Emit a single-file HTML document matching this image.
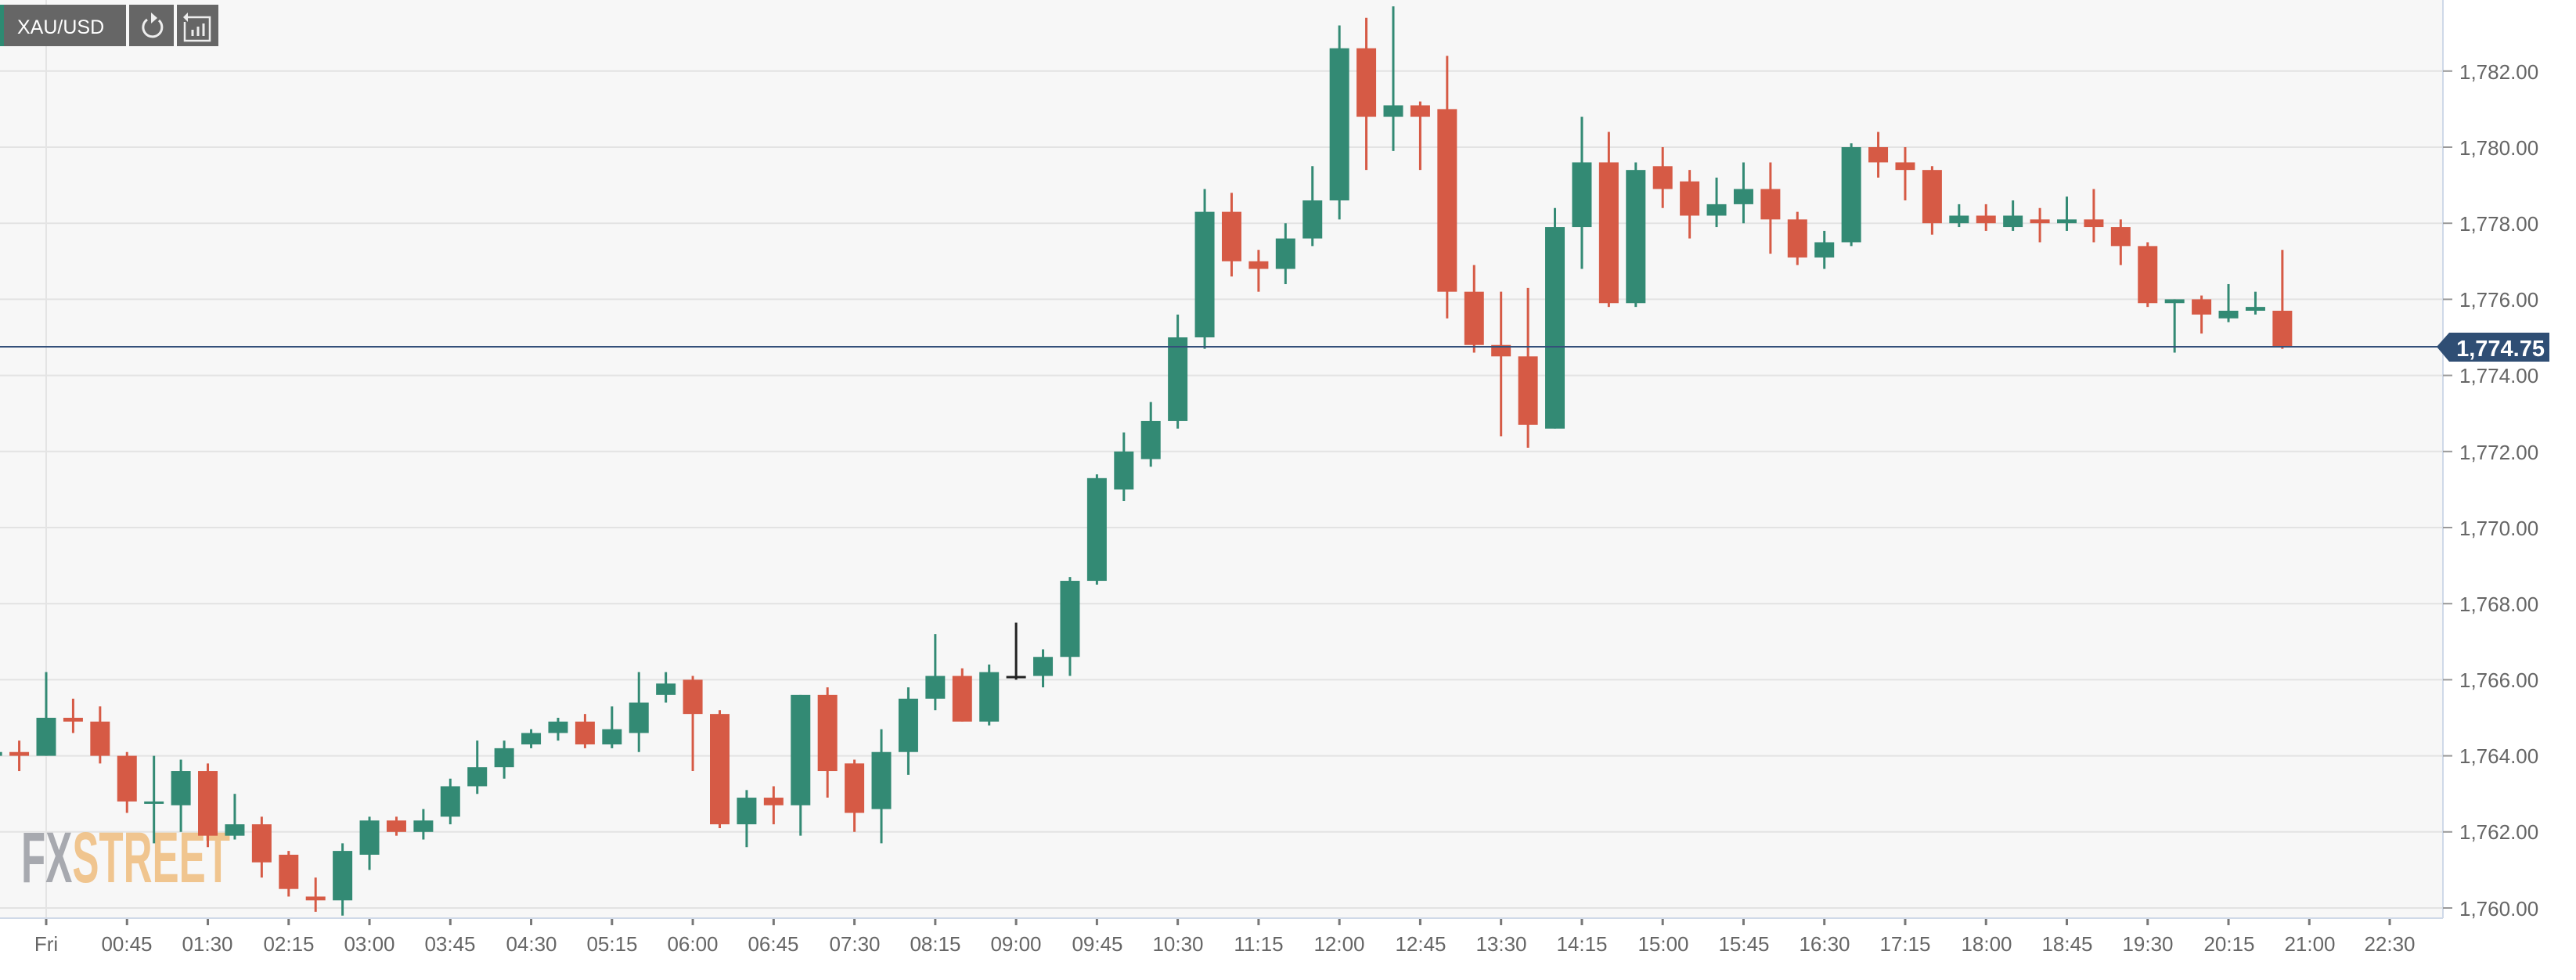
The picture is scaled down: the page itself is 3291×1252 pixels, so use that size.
<!DOCTYPE html>
<html><head><meta charset="utf-8"><style>
body{margin:0;width:3291px;height:1252px;background:#fff;overflow:hidden;font-family:"Liberation Sans",sans-serif;}
svg{position:absolute;left:0;top:0}
</style></head><body>
<svg id="s" width="3291" height="1252" xmlns="http://www.w3.org/2000/svg">
<rect x="0" y="0" width="3121" height="1173" fill="#f7f7f7"/>
<g id="grid"></g>
<line x1="59" y1="0" x2="59" y2="1173" stroke="#e4e4e4" stroke-width="2"/>
<line x1="3121" y1="0" x2="3121" y2="1173" stroke="#cfd9e8" stroke-width="2"/>
<line x1="0" y1="1173" x2="3121" y2="1173" stroke="#cfd9e8" stroke-width="2"/>
<g font-family="Liberation Sans Narrow, Liberation Sans, sans-serif" font-weight="bold" font-size="92" opacity="0.85">
<text x="27" y="1127" textLength="267" lengthAdjust="spacingAndGlyphs"><tspan fill="#9a9ca3">FX</tspan><tspan fill="#efbd7d">STREET</tspan></text>
</g>
<g id="candles"></g>
<line x1="0" y1="443" x2="3121" y2="443" stroke="#34507a" stroke-width="2"/>
<polygon points="3113,443 3129,425 3257,425 3257,462 3129,462" fill="#2f4e74"/>
<text x="3251" y="455" text-anchor="end" font-size="29" font-weight="bold" fill="#fff">1,774.75</text>
<g font-size="26" fill="#666">
<text x="3142" y="101">1,782.00</text>
<text x="3142" y="198">1,780.00</text>
<text x="3142" y="295">1,778.00</text>
<text x="3142" y="392">1,776.00</text>
<text x="3142" y="489">1,774.00</text>
<text x="3142" y="587">1,772.00</text>
<text x="3142" y="684">1,770.00</text>
<text x="3142" y="781">1,768.00</text>
<text x="3142" y="878">1,766.00</text>
<text x="3142" y="975">1,764.00</text>
<text x="3142" y="1072">1,762.00</text>
<text x="3142" y="1170">1,760.00</text>
</g>
<g id="yt"></g>
<g id="xt"></g>
<g font-size="26" fill="#666" text-anchor="middle">
<text x="59" y="1215">Fri</text>
<text x="162" y="1215">00:45</text>
<text x="265" y="1215">01:30</text>
<text x="369" y="1215">02:15</text>
<text x="472" y="1215">03:00</text>
<text x="575" y="1215">03:45</text>
<text x="679" y="1215">04:30</text>
<text x="782" y="1215">05:15</text>
<text x="885" y="1215">06:00</text>
<text x="988" y="1215">06:45</text>
<text x="1092" y="1215">07:30</text>
<text x="1195" y="1215">08:15</text>
<text x="1298" y="1215">09:00</text>
<text x="1402" y="1215">09:45</text>
<text x="1505" y="1215">10:30</text>
<text x="1608" y="1215">11:15</text>
<text x="1711" y="1215">12:00</text>
<text x="1815" y="1215">12:45</text>
<text x="1918" y="1215">13:30</text>
<text x="2021" y="1215">14:15</text>
<text x="2125" y="1215">15:00</text>
<text x="2228" y="1215">15:45</text>
<text x="2331" y="1215">16:30</text>
<text x="2434" y="1215">17:15</text>
<text x="2538" y="1215">18:00</text>
<text x="2641" y="1215">18:45</text>
<text x="2744" y="1215">19:30</text>
<text x="2848" y="1215">20:15</text>
<text x="2951" y="1215">21:00</text>
<text x="3053" y="1215">22:30</text>
</g>
<rect x="0" y="6" width="161" height="53" fill="#666"/>
<rect x="0" y="6" width="5" height="53" fill="#2e8a72"/>
<text x="22" y="43" font-size="25" fill="#fff">XAU/USD</text>
<rect x="165" y="6" width="57" height="53" fill="#666"/>
<path d="M203,26 A12,12 0 1 1 188,25" fill="none" stroke="#eee" stroke-width="3"/>
<polygon points="193,16 193,30 201,23" fill="#eee"/>
<rect x="226" y="6" width="53" height="53" fill="#666"/>
<path d="M236,22 H268 V52 H236 V28" fill="none" stroke="#eee" stroke-width="2.5"/>
<polygon points="234,22 240,16 240,28" fill="#eee"/>
<line x1="246" y1="46" x2="246" y2="38" stroke="#eee" stroke-width="3"/>
<line x1="253" y1="46" x2="253" y2="34" stroke="#eee" stroke-width="3"/>
<line x1="260" y1="46" x2="260" y2="30" stroke="#eee" stroke-width="3"/>
</svg>
<script>
var NS="http://www.w3.org/2000/svg";
function Y(p){return 1160-(p-1760)*48.6;}
function el(par,t,a){var e=document.createElementNS(NS,t);for(var k in a)e.setAttribute(k,a[k]);document.getElementById(par).appendChild(e);}
for(var p=1760;p<=1782;p+=2){el("grid","line",{x1:0,x2:3121,y1:Y(p),y2:Y(p),stroke:"#e3e3e3","stroke-width":2});el("yt","line",{x1:3121,x2:3133,y1:Y(p),y2:Y(p),stroke:"#999","stroke-width":2});}
for(var k=0;k<=84;k+=3){var x=59+k*34.42;el("xt","line",{x1:x,x2:x,y1:1174,y2:1182,stroke:"#777","stroke-width":3});}
el("xt","line",{x1:3053,x2:3053,y1:1174,y2:1182,stroke:"#777","stroke-width":3});
var d=[
[-2,1764.0,1764.1,1764.3,1763.9],
[-1,1764.1,1764.0,1764.4,1763.6],
[0,1764.0,1765.0,1766.2,1764.0],[1,1765.0,1764.9,1765.5,1764.6],[2,1764.9,1764.0,1765.3,1763.8],[3,1764.0,1762.8,1764.1,1762.5],
[4,1762.8,1762.8,1764.0,1761.7],[5,1762.7,1763.6,1763.9,1762.0],[6,1763.6,1761.9,1763.8,1761.6],[7,1761.9,1762.2,1763.0,1761.8],
[8,1762.2,1761.2,1762.4,1760.8],[9,1761.4,1760.5,1761.5,1760.3],[10,1760.3,1760.2,1760.8,1759.9],[11,1760.2,1761.5,1761.7,1759.8],
[12,1761.4,1762.3,1762.4,1761.0],[13,1762.3,1762.0,1762.4,1761.9],[14,1762.0,1762.3,1762.6,1761.8],[15,1762.4,1763.2,1763.4,1762.2],
[16,1763.2,1763.7,1764.4,1763.0],[17,1763.7,1764.2,1764.4,1763.4],[18,1764.3,1764.6,1764.7,1764.2],[19,1764.6,1764.9,1765.0,1764.4],
[20,1764.9,1764.3,1765.1,1764.2],[21,1764.3,1764.7,1765.3,1764.2],[22,1764.6,1765.4,1766.2,1764.1],[23,1765.6,1765.9,1766.2,1765.4],
[24,1766.0,1765.1,1766.1,1763.6],[25,1765.1,1762.2,1765.2,1762.1],[26,1762.2,1762.9,1763.1,1761.6],[27,1762.9,1762.7,1763.2,1762.2],
[28,1762.7,1765.6,1765.6,1761.9],[29,1765.6,1763.6,1765.8,1762.9],[30,1763.8,1762.5,1763.9,1762.0],[31,1762.6,1764.1,1764.7,1761.7],
[32,1764.1,1765.5,1765.8,1763.5],[33,1765.5,1766.1,1767.2,1765.2],[34,1766.1,1764.9,1766.3,1764.9],[35,1764.9,1766.2,1766.4,1764.8],
[36,1766.1,1766.1,1767.5,1766.0],[37,1766.1,1766.6,1766.8,1765.8],[38,1766.6,1768.6,1768.7,1766.1],[39,1768.6,1771.3,1771.4,1768.5],
[40,1771.0,1772.0,1772.5,1770.7],[41,1771.8,1772.8,1773.3,1771.6],[42,1772.8,1775.0,1775.6,1772.6],[43,1775.0,1778.3,1778.9,1774.7],
[44,1778.3,1777.0,1778.8,1776.6],[45,1777.0,1776.8,1777.3,1776.2],[46,1776.8,1777.6,1778.0,1776.4],[47,1777.6,1778.6,1779.5,1777.4],
[48,1778.6,1782.6,1783.2,1778.1],[49,1782.6,1780.8,1783.4,1779.4],[50,1780.8,1781.1,1783.7,1779.9],[51,1781.1,1780.8,1781.2,1779.4],
[52,1781.0,1776.2,1782.4,1775.5],[53,1776.2,1774.8,1776.9,1774.6],[54,1774.8,1774.5,1776.2,1772.4],[55,1774.5,1772.7,1776.3,1772.1],
[56,1772.6,1777.9,1778.4,1772.6],[57,1777.9,1779.6,1780.8,1776.8],[58,1779.6,1775.9,1780.4,1775.8],[59,1775.9,1779.4,1779.6,1775.8],
[60,1779.5,1778.9,1780.0,1778.4],[61,1779.1,1778.2,1779.4,1777.6],[62,1778.2,1778.5,1779.2,1777.9],[63,1778.5,1778.9,1779.6,1778.0],
[64,1778.9,1778.1,1779.6,1777.2],[65,1778.1,1777.1,1778.3,1776.9],[66,1777.1,1777.5,1777.8,1776.8],[67,1777.5,1780.0,1780.1,1777.4],
[68,1780.0,1779.6,1780.4,1779.2],[69,1779.6,1779.4,1780.0,1778.6],[70,1779.4,1778.0,1779.5,1777.7],[71,1778.0,1778.2,1778.5,1777.9],
[72,1778.2,1778.0,1778.5,1777.8],[73,1777.9,1778.2,1778.6,1777.8],[74,1778.1,1778.0,1778.4,1777.5],[75,1778.0,1778.1,1778.7,1777.8],
[76,1778.1,1777.9,1778.9,1777.5],[77,1777.9,1777.4,1778.1,1776.9],[78,1777.4,1775.9,1777.5,1775.8],[79,1775.9,1776.0,1776.0,1774.6],
[80,1776.0,1775.6,1776.1,1775.1],[81,1775.5,1775.7,1776.4,1775.4],[82,1775.7,1775.8,1776.2,1775.6],[83,1775.7,1774.75,1777.3,1774.7]];
d.forEach(function(c){
 var x=59+c[0]*34.42,o=c[1],cl=c[2],h=c[3],l=c[4];
 var col=cl>o?"#338a74":(cl<o?"#d65a45":"#338a74");
 if(c[0]==36)col="#222";
 el("candles","line",{x1:x,x2:x,y1:Y(h),y2:Y(l),stroke:col,"stroke-width":3});
 var t=Math.min(Y(o),Y(cl)),bh=Math.max(3,Math.abs(Y(o)-Y(cl)));
 el("candles","rect",{x:x-12.5,y:t,width:25,height:bh,fill:col});
});
</script>
</body></html>
